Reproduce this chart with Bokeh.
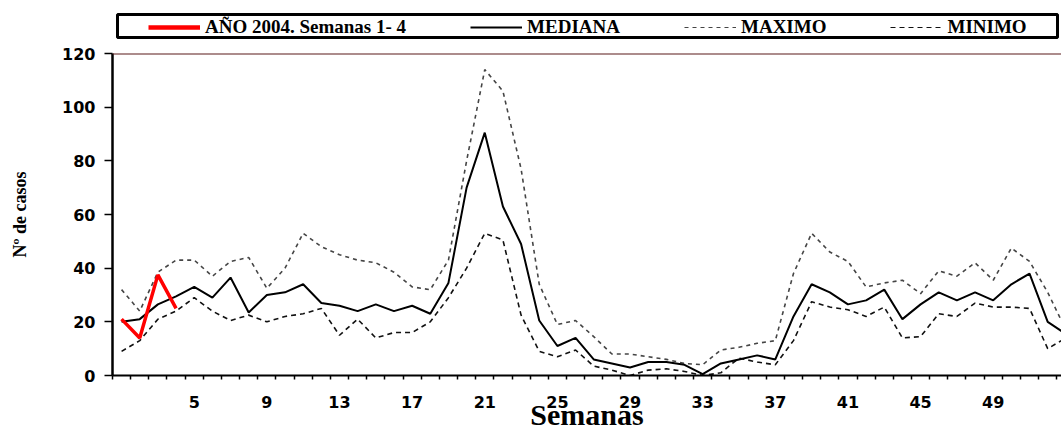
from bokeh.plotting import figure
from bokeh.layouts import column
from bokeh.models import FixedTicker, Legend, LegendItem, Span, BoxAnnotation
from bokeh.embed import file_html
from bokeh.resources import INLINE

# Weekly case counts, weeks 1-53
semanas = list(range(1, 54))
mediana = [20, 21, 26.5, 29.5, 33, 29, 36.5, 23.5, 30, 31,
           34, 27, 26, 24, 26.5, 24, 26, 23, 34.5, 70,
           90.5, 63, 49, 20.5, 11, 14, 6, 4.5, 3, 5,
           5, 4, 0.5, 4.5, 6, 7.5, 6, 22, 34, 31,
           26.5, 28, 32, 21, 26.5, 31, 28, 31, 28, 34,
           38, 20, 15.5]
maximo = [32, 24, 38.5, 43, 43, 37, 42.5, 44, 32.5, 40,
          53, 48, 45, 43, 42, 38.5, 33, 32, 43, 80,
          114, 106, 77, 34, 19, 20.5, 14.5, 8, 8, 7,
          6, 4.5, 4, 9.5, 10.5, 12, 13, 38, 53, 46,
          42.5, 33, 34.5, 35.5, 30.5, 39, 37, 42, 35.5, 47.5,
          42.5, 31, 17]
minimo = [9, 13, 21, 24, 29, 24, 20.5, 22.5, 20, 22,
          23, 25, 15, 21, 14, 16, 16, 20, 29, 40,
          53, 50.5, 22.5, 9, 7, 9.5, 3.5, 2, 0, 2,
          2.5, 1.5, 0, 1, 6.5, 5, 4, 13, 27.5, 25.5,
          24.5, 22, 25.5, 14, 14.5, 23, 22, 27, 25.5, 25.5,
          25, 10, 14]

# Current season, first four weeks
semanas_2004 = [1, 2, 3, 4]
casos_2004 = [21, 14, 37.5, 25]

x_ticks = list(range(5, 50, 4))
y_ticks = list(range(0, 121, 20))

# line styles shared by the chart and its key
STYLE_2004 = dict(line_color="#ff0000", line_width=3.5)
STYLE_MED = dict(line_color="black", line_width=2)
STYLE_MAX = dict(line_color="#454545", line_width=1.6, line_dash="4 4")
STYLE_MIN = dict(line_color="#111111", line_width=1.6, line_dash="5 4")

# ---- main chart ----
p = figure(width=1061, height=388, output_backend="svg", toolbar_location=None,
           x_range=(0.5, 52.76), y_range=(0, 120),
           min_border_left=112, min_border_right=0,
           min_border_top=8, min_border_bottom=58)
p.background_fill_color = "white"
p.border_fill_color = "white"
p.outline_line_color = None
p.grid.visible = False

p.line(semanas, maximo, **STYLE_MAX)
p.line(semanas, minimo, **STYLE_MIN)
p.line(semanas, mediana, **STYLE_MED)
p.line(semanas_2004, casos_2004, **STYLE_2004)

# top edge of the plotting area
p.add_layout(Span(location=120, dimension="width", line_color="#5a1a1a", line_width=2))

# x axis: one tick per week boundary, labels every 4 weeks
xa = p.xaxis[0]
xa.ticker = FixedTicker(ticks=x_ticks, minor_ticks=[w - 0.5 for w in semanas])
xa.major_tick_line_color = None
xa.major_tick_out = 0
xa.major_tick_in = 0
xa.minor_tick_out = 4
xa.minor_tick_in = 0
xa.minor_tick_line_color = "black"
xa.minor_tick_line_width = 1.5
xa.axis_line_color = "black"
xa.axis_line_width = 2
xa.major_label_text_font = "DejaVu Sans"
xa.major_label_text_font_style = "bold"
xa.major_label_text_font_size = "16px"
xa.major_label_text_color = "black"
xa.major_label_standoff = 16
xa.axis_label = "Semanas"
xa.axis_label_text_font = "Liberation Serif"
xa.axis_label_text_font_style = "bold"
xa.axis_label_text_font_size = "30px"
xa.axis_label_text_color = "black"
xa.axis_label_standoff = -13

ya = p.yaxis[0]
ya.ticker = FixedTicker(ticks=y_ticks, minor_ticks=[])
ya.major_tick_out = 8
ya.major_tick_in = 0
ya.major_tick_line_color = "black"
ya.major_tick_line_width = 1.5
ya.axis_line_color = "black"
ya.axis_line_width = 2.5
ya.major_label_text_font = "DejaVu Sans"
ya.major_label_text_font_style = "bold"
ya.major_label_text_font_size = "16px"
ya.major_label_text_color = "black"
ya.major_label_standoff = 9
ya.axis_label = "Nº de casos"
ya.axis_label_text_font = "Liberation Serif"
ya.axis_label_text_font_style = "bold"
ya.axis_label_text_font_size = "18px"
ya.axis_label_text_color = "black"
ya.axis_label_standoff = 29

# ---- key strip above the chart (its frame lines up with the chart's frame) ----
k = figure(width=1061, height=45, output_backend="svg", toolbar_location=None,
           x_range=(112, 1061), y_range=(0, 45), min_border=0)
k.axis.visible = False
k.grid.visible = False
k.outline_line_color = None
k.background_fill_color = "white"
k.border_fill_color = "white"

# sample renderers for the key only (nothing is plotted by them)
nan = float("nan")
k_2004 = k.line([nan], [nan], **dict(STYLE_2004, line_width=4.5))
k_med = k.line([nan], [nan], **STYLE_MED)
k_max = k.line([nan], [nan], **dict(STYLE_MAX, line_width=1.2))
k_min = k.line([nan], [nan], **dict(STYLE_MIN, line_width=1.2))

k.add_layout(BoxAnnotation(left=117, right=1057, bottom=8, top=31,
                           fill_color="white", fill_alpha=1,
                           line_color="black", line_width=3, line_alpha=1))

legend = Legend(
    items=[
        LegendItem(label="AÑO 2004. Semanas 1- 4", renderers=[k_2004]),
        LegendItem(label="MEDIANA", renderers=[k_med]),
        LegendItem(label="MAXIMO", renderers=[k_max]),
        LegendItem(label="MINIMO", renderers=[k_min]),
    ],
    orientation="horizontal", location=(36, 7),
    border_line_color=None, background_fill_alpha=0,
    padding=2, spacing=64, glyph_width=52, glyph_height=18, label_standoff=5,
    label_text_font="Liberation Serif", label_text_font_style="bold",
    label_text_font_size="19px", label_text_color="black", margin=0,
)
k.add_layout(legend, "center")

open("out.html", "w").write(file_html(column(k, p, spacing=0), INLINE))
